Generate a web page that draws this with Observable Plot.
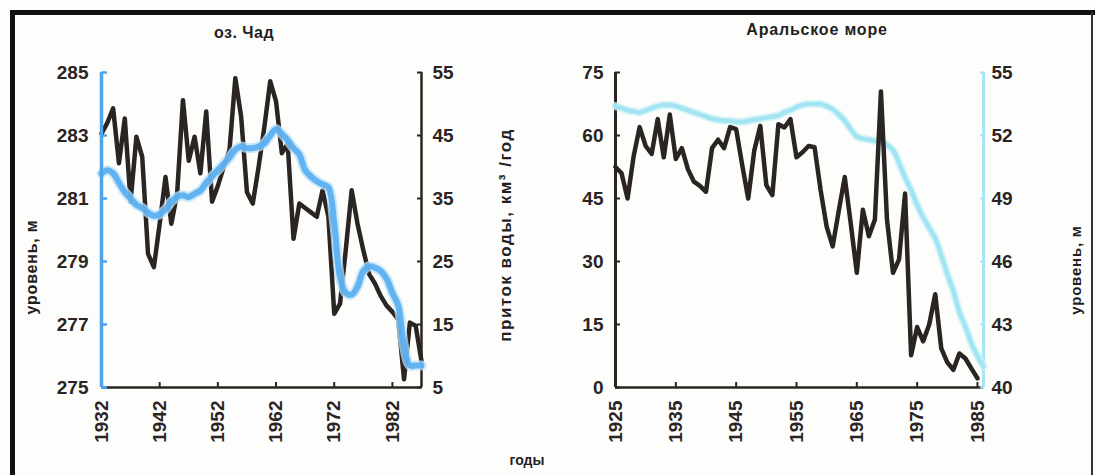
<!DOCTYPE html>
<html><head><meta charset="utf-8">
<script src="https://cdn.jsdelivr.net/npm/d3@7"></script>
<script src="https://cdn.jsdelivr.net/npm/@observablehq/plot@0.6"></script>
<style>
body{margin:0;background:#fff;}
#wrap{position:relative;width:1095px;height:475px;overflow:hidden;background:#fdfdfc;font-family:"Liberation Sans",Arial,sans-serif;color:#231f1e;}
.lbl{position:absolute;white-space:nowrap;font-weight:bold;transform:translate(-50%,-50%);line-height:1;}
.rot{transform:translate(-50%,-50%) rotate(-90deg);}
.panel{position:absolute;top:0;}
.bar{position:absolute;background:#111;}
</style></head><body>
<div id="wrap">
  <div class="bar" style="left:10px;top:10px;width:1085px;height:5px;"></div>
  <div class="bar" style="left:10px;top:10px;width:5px;height:465px;"></div>
  <div class="bar" style="left:1091px;top:12px;width:2px;height:463px;background:#333;"></div>
  <div id="left" class="panel" style="left:0px;"></div>
  <div id="right" class="panel" style="left:545px;"></div>
  <div class="lbl" style="left:244px;top:33px;font-size:16px;letter-spacing:0.5px;">оз. Чад</div>
  <div class="lbl" style="left:817px;top:30px;font-size:16px;letter-spacing:0.8px;">Аральское море</div>
  <div class="lbl rot" style="left:32px;top:267px;font-size:16px;letter-spacing:0.8px;">уровень, м</div>
  <div class="lbl rot" style="left:505px;top:235px;font-size:17px;letter-spacing:1.5px;">приток воды, км³ /год</div>
  <div class="lbl rot" style="left:1075px;top:270px;font-size:15px;letter-spacing:0.8px;">уровень, м</div>
  <div class="lbl" style="left:527px;top:460px;font-size:14px;">годы</div>
</div>
<script>
// ---- оз. Чад ----
const chadYears = [1932,1933,1934,1935,1936,1937,1938,1939,1940,1941,1942,1943,1944,1945,1946,1947,1948,1949,1950,1951,1952,1953,1954,1955,1956,1957,1958,1959,1960,1961,1962,1963,1964,1965,1966,1967,1968,1969,1970,1971,1972,1973,1974,1975,1976,1977,1978,1979,1980,1981,1982,1983,1984,1985,1986,1987];
const chadInflow = [45.3,47,49.3,40.6,47.7,34.5,44.8,41.6,26.2,24.1,31,38.4,31,35.8,50.6,41,44.8,39,48.8,34.5,37,40,42.7,54.1,48,36,34.2,40,46.4,53.6,50.4,42.2,43.7,28.6,34.2,33.5,32.8,32.1,36.3,32.1,16.7,18.3,27,36.3,31,26.8,23,21.5,19.5,18,17,15.8,6.3,15.3,14.8,9.2];
const chadLevel = [281.8,281.9,281.8,281.5,281.2,281.0,280.8,280.7,280.55,280.45,280.5,280.65,280.9,281.05,281.1,281.05,281.15,281.25,281.5,281.7,281.9,282.1,282.3,282.55,282.65,282.6,282.6,282.65,282.75,283.0,283.2,283.05,282.85,282.6,282.4,281.9,281.7,281.55,281.45,281.35,280.2,278.5,278.0,277.95,278.2,278.7,278.85,278.8,278.7,278.45,278.0,277.6,276.3,275.7,275.7,275.7];
const chadXTicks = [1932,1942,1952,1962,1972,1982];
const chadLevelTicks = [275,277,279,281,283,285];
const chadInflowTicks = [5,15,25,35,45,55];

// ---- Аральское море ----
const aralYears = [1925,1926,1927,1928,1929,1930,1931,1932,1933,1934,1935,1936,1937,1938,1939,1940,1941,1942,1943,1944,1945,1946,1947,1948,1949,1950,1951,1952,1953,1954,1955,1956,1957,1958,1959,1960,1961,1962,1963,1964,1965,1966,1967,1968,1969,1970,1971,1972,1973,1974,1975,1976,1977,1978,1979,1980,1981,1982,1983,1984,1985];
const aralInflow = [52.5,51,45,55,62,57.5,55.6,63.9,54.8,65,54.4,57,52,49,48,46.6,57,59,57,62,61.5,53,45,56.4,62.3,48.2,45.8,62.7,61.9,63.9,54.8,56,57.5,57.2,47,38.3,33.6,42,50.1,39,27.3,42.3,36,40,70.5,40,27.3,30.5,46.2,7.7,14.4,11,15,22.2,9.3,6,4.2,8.1,6.9,4.5,2.2];
const aralLevelYears = [1925,1926,1927,1928,1929,1930,1931,1932,1933,1934,1935,1936,1937,1938,1939,1940,1941,1942,1943,1944,1945,1946,1947,1948,1949,1950,1951,1952,1953,1954,1955,1956,1957,1958,1959,1960,1961,1962,1963,1964,1965,1966,1967,1968,1969,1970,1971,1972,1973,1974,1975,1976,1977,1978,1979,1980,1981,1982,1983,1984,1985,1986];
const aralLevel = [53.4,53.3,53.2,53.15,53.1,53.2,53.3,53.4,53.45,53.45,53.4,53.3,53.2,53.1,53.0,52.9,52.8,52.75,52.7,52.7,52.65,52.65,52.7,52.75,52.8,52.85,52.9,52.95,53.1,53.2,53.35,53.45,53.5,53.5,53.5,53.4,53.25,53.0,52.7,52.3,51.95,51.85,51.8,51.75,51.7,51.55,51.3,50.7,50.0,49.4,48.7,48.1,47.6,47.1,46.3,45.4,44.6,43.6,42.9,42.1,41.5,41.0];
const aralXTicks = [1925,1935,1945,1955,1965,1975,1985];
const aralInflowTicks = [0,15,30,45,60,75];
const aralLevelTicks = [40,43,46,49,52,55];

const INK = "#2a2422";
const FONT = "Liberation Sans, Arial, sans-serif";
const baseStyle = {fontFamily: FONT, fontSize: "19px", fontWeight: "bold", color: INK, background: "transparent", overflow: "visible"};

// Chad: level (m) mapped onto the inflow y scale (same vertical extent)
const chadToY = L => 5 + (L - 275) * 5;
const chadFromY = v => 275 + (v - 5) / 5;
const chadData = chadYears.map((yr, i) => ({year: yr, inflow: chadInflow[i], level: chadLevel[i]}));

const left = Plot.plot({
  width: 545, height: 475,
  marginLeft: 101, marginRight: 124, marginTop: 72, marginBottom: 88,
  style: baseStyle,
  x: {domain: [1932, 1987]},
  y: {domain: [5, 55]},
  marks: [
    Plot.ruleY([5], {stroke: INK, strokeWidth: 2.5}),
    Plot.ruleX([1987], {stroke: INK, strokeWidth: 2.5}),
    Plot.axisX(chadXTicks, {anchor: "bottom", tickRotate: -90, tickSize: -5, tickPadding: 18, strokeWidth: 2, stroke: INK, fill: INK, label: null, tickFormat: d => String(d), fontSize: 19, fontWeight: "bold"}),
    Plot.axisY(chadLevelTicks.map(chadToY), {anchor: "left", tickSize: -6, tickPadding: 19, strokeWidth: 2.5, stroke: "#4ea5ec", fill: INK, label: null, tickFormat: d => String(Math.round(chadFromY(d))), fontSize: 19, fontWeight: "bold"}),
    Plot.axisY(chadInflowTicks, {anchor: "right", tickSize: -5, tickPadding: 16, strokeWidth: 2, stroke: INK, fill: INK, label: null, tickFormat: d => String(d), fontSize: 19, fontWeight: "bold"}),
    Plot.line(chadData, {x: "year", y: "inflow", stroke: INK, strokeWidth: 4.5}),
    Plot.line(chadData, {x: "year", y: d => chadToY(d.level), stroke: "#b9e0fb", strokeWidth: 10, strokeOpacity: 0.75, curve: "catmull-rom"}),
    Plot.line(chadData, {x: "year", y: d => chadToY(d.level), stroke: "#55adf0", strokeWidth: 6, strokeOpacity: 0.9, curve: "catmull-rom"}),
    Plot.ruleX([1932], {stroke: "#4ea5ec", strokeWidth: 3.5})
  ]
});
document.getElementById("left").append(left);

// Aral: level (m) mapped onto the inflow y scale (same vertical extent)
const aralToY = L => (L - 40) * 5;
const aralFromY = v => 40 + v / 5;
const aralInflowData = aralYears.map((yr, i) => ({year: yr, inflow: aralInflow[i]}));
const aralLevelData = aralLevelYears.map((yr, i) => ({year: yr, level: aralLevel[i]}));

const right = Plot.plot({
  width: 550, height: 475,
  marginLeft: 70, marginRight: 112, marginTop: 72, marginBottom: 88,
  style: baseStyle,
  x: {domain: [1925, 1986]},
  y: {domain: [0, 75]},
  marks: [
    Plot.ruleY([0], {stroke: INK, strokeWidth: 2.5}),
    Plot.ruleX([1925], {stroke: INK, strokeWidth: 3}),
    Plot.ruleX([1986], {stroke: "#a9e6f4", strokeWidth: 3}),
    Plot.axisX(aralXTicks, {anchor: "bottom", tickRotate: -90, tickSize: -5, tickPadding: 18, strokeWidth: 2, stroke: INK, fill: INK, label: null, tickFormat: d => String(d), fontSize: 19, fontWeight: "bold"}),
    Plot.axisY(aralInflowTicks, {anchor: "left", tickSize: -5, tickPadding: 17, strokeWidth: 2, stroke: INK, fill: INK, label: null, tickFormat: d => String(d), fontSize: 19, fontWeight: "bold"}),
    Plot.axisY(aralLevelTicks.map(aralToY), {anchor: "right", tickSize: -4, tickPadding: 12, strokeWidth: 2, stroke: "#a9e6f4", fill: INK, label: null, tickFormat: d => String(Math.round(aralFromY(d))), fontSize: 19, fontWeight: "bold"}),
    Plot.line(aralLevelData, {x: "year", y: d => aralToY(d.level), stroke: "#cdf2f8", strokeWidth: 8, strokeOpacity: 0.8, curve: "catmull-rom"}),
    Plot.line(aralLevelData, {x: "year", y: d => aralToY(d.level), stroke: "#a2e4f1", strokeWidth: 4.5, curve: "catmull-rom"}),
    Plot.line(aralInflowData, {x: "year", y: "inflow", stroke: INK, strokeWidth: 4.5})
  ]
});
document.getElementById("right").append(right);
</script>
</body></html>
